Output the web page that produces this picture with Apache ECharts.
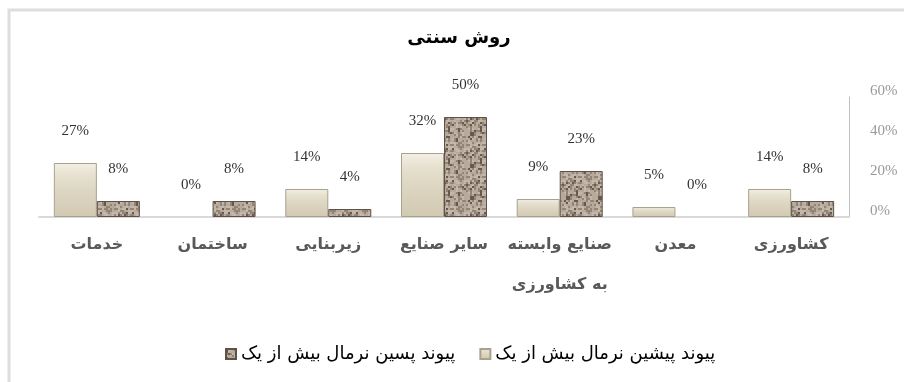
<!DOCTYPE html>
<html>
<head>
<meta charset="utf-8">
<script src="https://cdn.jsdelivr.net/npm/echarts@6/dist/echarts.min.js"></script>
<style>
html,body{margin:0;padding:0;background:#fff;}
#chart{width:904px;height:382px;}
</style>
</head>
<body>
<div id="chart"></div>
<script>
var titleText = 'روش سنتی';
var categories = ['خدمات', 'ساختمان', 'زیربنایی', 'سایر صنایع', 'صنایع وابسته\nبه کشاورزی', 'معدن', 'کشاورزی'];
var seriesNames = ['پیوند پیشین نرمال بیش از یک', 'پیوند پسین نرمال بیش از یک'];
var preValues = [27, 0, 14, 32, 9, 5, 14];
var postValues = [8, 8, 4, 50, 23, 0, 8];
var yTicks = [0, 20, 40, 60];

function hash(i, j) {
  var s = Math.sin(i * 127.1 + j * 311.7) * 43758.5453;
  return s - Math.floor(s);
}
function makeBrown() {
  var c = document.createElement('canvas');
  c.width = 32; c.height = 32;
  var g = c.getContext('2d');
  g.fillStyle = '#a49585';
  g.fillRect(0, 0, 32, 32);
  for (var i = 0; i < 32; i += 2) {
    for (var j = 0; j < 32; j += 2) {
      var h = hash(i, j);
      var v;
      if (h < 0.12) v = 'rgba(85,70,58,0.75)';
      else if (h < 0.4) v = 'rgba(140,125,110,0.7)';
      else if (h < 0.75) v = 'rgba(190,180,166,0.7)';
      else v = 'rgba(215,207,195,0.6)';
      g.fillStyle = v;
      g.fillRect(i, j, 2, 2);
    }
  }
  return c;
}
var beigeFill = {
  type: 'linear', x: 0, y: 0, x2: 0, y2: 1,
  colorStops: [
    {offset: 0, color: '#f3efe4'},
    {offset: 0.22, color: '#e7e1d0'},
    {offset: 0.5, color: '#ddd6c2'},
    {offset: 1, color: '#d2c9b2'}
  ]
};
function items(arr) {
  return arr.map(function (v) {
    return v === 0 ? {value: v, itemStyle: {borderColor: 'transparent', color: 'transparent'}} : v;
  });
}

var chart = echarts.init(document.getElementById('chart'), null, {renderer: 'canvas'});
var persianFont = 'DejaVu Sans';
var serifFont = 'Liberation Serif';

chart.setOption({
  backgroundColor: '#ffffff',
  animation: false,
  graphic: [{
    type: 'rect',
    shape: {x: 9, y: 10, width: 910, height: 390},
    style: {fill: 'none', stroke: '#dedede', lineWidth: 3},
    silent: true,
    z: 0
  }, {
    type: 'text',
    x: 459,
    y: 38,
    z: 10,
    style: {
      text: titleText,
      align: 'center',
      verticalAlign: 'middle',
      font: 'bold 18px "DejaVu Sans"',
      fill: '#000'
    }
  }],
  legend: {
    data: [seriesNames[1], seriesNames[0]],
    left: 220,
    top: 340,
    itemWidth: 10,
    itemHeight: 10,
    itemGap: 24,
    icon: 'rect',
    textStyle: {fontFamily: persianFont, fontSize: 18, color: '#000'}
  },
  grid: {left: 39, right: 55, top: 97, bottom: 165, containLabel: false},
  xAxis: {
    type: 'category',
    data: categories,
    axisLine: {show: true, lineStyle: {color: '#d9d9d9', width: 2}},
    axisTick: {show: false},
    axisLabel: {
      interval: 0,
      margin: 8,
      fontFamily: persianFont,
      fontWeight: 'bold',
      fontSize: 16,
      lineHeight: 40,
      color: '#595959'
    }
  },
  yAxis: {
    type: 'value',
    position: 'right',
    min: 0,
    max: 60,
    interval: 20,
    axisLine: {show: true, lineStyle: {color: '#bfbfbf', width: 1}},
    axisTick: {show: false},
    splitLine: {show: false},
    axisLabel: {
      margin: 21,
      fontFamily: serifFont,
      fontSize: 15,
      color: '#999',
      verticalAlign: 'bottom',
      lineHeight: 12,
      formatter: function (v) { return yTicks.indexOf(v) >= 0 ? v + '%' : ''; }
    }
  },
  series: [
    {
      name: seriesNames[0],
      type: 'bar',
      data: items(preValues),
      barWidth: 43,
      barGap: '0%',
      itemStyle: {
        color: beigeFill,
        borderColor: '#a8a18e',
        borderWidth: 1
      },
      label: {
        show: true,
        position: 'top',
        distance: 24,
        fontFamily: serifFont,
        fontSize: 15,
        color: '#333',
        formatter: '{c}%'
      }
    },
    {
      name: seriesNames[1],
      type: 'bar',
      data: items(postValues),
      barWidth: 43,
      barGap: '0%',
      itemStyle: {
        color: {image: makeBrown(), repeat: 'repeat'},
        borderColor: '#5e5248',
        borderWidth: 1
      },
      label: {
        show: true,
        position: 'top',
        distance: 24,
        fontFamily: serifFont,
        fontSize: 15,
        color: '#333',
        formatter: '{c}%'
      }
    }
  ]
});
</script>
</body>
</html>
